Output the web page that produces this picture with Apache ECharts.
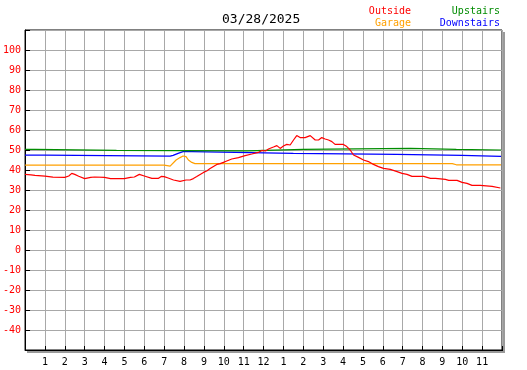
<!DOCTYPE html>
<html>
<head>
<meta charset="utf-8">
<script src="https://cdn.jsdelivr.net/npm/echarts@6/dist/echarts.min.js"></script>
<style>html,body{margin:0;padding:0;background:#fff}#c{width:527px;height:370px}</style>
</head>
<body>
<div id="c"></div>
<script>
const titleText = '03/28/2025';
const seriesNames = ['Outside', 'Garage', 'Upstairs', 'Downstairs'];
const seriesColors = ['#ff0000', '#ffa000', '#008c00', '#0000ff'];

const outsideHours = [0,0.3,0.5,1.0,1.4,2.0,2.2,2.35,2.5,2.7,3.0,3.3,3.5,4.0,4.3,5.0,5.3,5.5,5.75,6.0,6.38,6.7,6.85,7.0,7.2,7.47,7.8,8.1,8.3,8.47,8.64,8.81,8.98,9.14,9.31,9.48,9.65,9.82,9.98,10.15,10.4,10.74,11.07,11.41,11.74,11.91,12.0,12.1,12.25,12.5,12.67,12.84,13.0,13.17,13.34,13.51,13.67,13.84,14.09,14.35,14.6,14.77,14.93,15.1,15.27,15.44,15.6,16.02,16.19,16.36,16.53,16.78,17.03,17.28,17.53,17.78,18.04,18.38,18.72,18.97,19.22,19.47,20.06,20.14,20.4,20.65,20.73,21.15,21.32,21.74,21.99,22.24,22.49,22.91,22.99,23.5,23.58,23.92];
const outsideTemps = [37.8,37.6,37.3,36.9,36.4,36.3,37.0,38.3,37.8,36.9,35.7,36.3,36.5,36.3,35.7,35.7,36.3,36.5,37.8,37.0,35.8,35.8,36.8,36.7,36.0,35.0,34.3,35.0,35.0,35.7,36.7,37.8,38.8,39.5,40.7,41.8,42.8,43.2,43.8,44.5,45.5,46.2,47.2,48.0,48.8,49.8,50.2,49.5,50.5,51.5,52.2,50.8,52.0,52.8,52.5,55.0,57.2,56.2,56.2,57.2,55.0,55.0,56.2,55.5,55.0,54.2,52.8,52.8,51.7,50.0,47.5,46.3,45.0,44.2,42.8,41.7,40.8,40.3,39.2,38.3,37.8,36.8,36.8,36.3,35.8,35.8,35.3,35.3,34.8,34.8,33.8,33.3,32.3,32.3,31.8,31.8,31.3,31.0];

const garageHours = [0,7.0,7.01,7.3,7.38,7.6,7.8,7.95,8.1,8.22,8.39,8.55,20.8,20.9,21.0,21.1,21.25,21.35,21.5,21.6,21.7,23.95];
const garageTemps = [42.4,42.4,41.9,41.9,42.8,45.0,46.2,47.0,46.7,45.0,43.8,43.2,43.2,42.7,43.2,42.7,43.2,42.7,43.2,42.7,42.6,42.6];

const upstairsHours = [0,0.5,0.55,4.6,4.65,11.2,11.3,14.0,14.1,19.4,19.5,21.7,21.8,23.95];
const upstairsTemps = [50.3,50.3,49.8,49.8,49.6,49.6,50.3,50.3,50.8,50.8,50.3,50.3,50.0,50.0];

const downstairsHours = [0,1.0,1.05,7.3,7.35,7.45,7.7,7.95,8.4,8.5,13.5,13.55,18.7,18.75,22.0,22.05,23.95];
const downstairsTemps = [47.4,47.4,46.9,46.9,46.4,47.3,48.3,49.2,49.2,48.3,48.3,47.8,47.8,47.3,47.3,46.8,46.8];

const yMin = -50, yMax = 110, yStep = 10;
const xMin = 0, xMax = 24, xStep = 1;

function pairs(h, v) { return h.map((x, i) => [x, v[i]]); }
const seriesData = [
  pairs(outsideHours, outsideTemps),
  pairs(garageHours, garageTemps),
  pairs(upstairsHours, upstairsTemps),
  pairs(downstairsHours, downstairsTemps)
];

const mono = 'DejaVu Sans Mono';
const chart = echarts.init(document.getElementById('c'), null, {renderer: 'canvas'});

const legendPos = [[411, 11], [411, 23], [500, 11], [500, 23]];
const G = {left: 25, top: 30, width: 477, height: 320};

const legendTexts = seriesNames.map((n, i) => ({
  type: 'text',
  x: legendPos[i][0], y: legendPos[i][1],
  style: {text: n, fill: seriesColors[i], font: '10px "' + mono + '"', textAlign: 'right', textVerticalAlign: 'middle'}
}));
const frameShadow = [
  {type: 'rect', shape: {x: G.left + G.width, y: G.top + 1, width: 1, height: G.height + 1}, style: {fill: '#000'}},
  {type: 'rect', shape: {x: G.left + 1, y: G.top + G.height, width: G.width + 1, height: 1}, style: {fill: '#000'}},
  {type: 'rect', shape: {x: G.left + G.width + 1, y: G.top + 2, width: 2, height: G.height + 1}, style: {fill: '#9a9a9a'}},
  {type: 'rect', shape: {x: G.left + 2, y: G.top + G.height + 1, width: G.width + 1, height: 2}, style: {fill: '#9a9a9a'}}
];

chart.setOption({
  animation: false,
  backgroundColor: '#fff',
  title: {
    text: titleText,
    left: 222, top: 13, padding: 0,
    textStyle: {fontFamily: mono, fontSize: 13, fontWeight: 'normal', color: '#000'}
  },
  graphic: legendTexts.concat(frameShadow),
  grid: {
    left: G.left, top: G.top, width: G.width, height: G.height,
    show: true, backgroundColor: '#fff', borderColor: '#000', borderWidth: 1
  },
  xAxis: {
    type: 'value', min: xMin, max: xMax, interval: xStep,
    axisLine: {show: true, onZero: false, lineStyle: {color: '#000', width: 1}},
    axisTick: {show: true, inside: true, length: 4, lineStyle: {color: '#000'}},
    splitLine: {show: true, lineStyle: {color: '#a8a8a8', width: 1}},
    axisLabel: {
      color: '#000', fontFamily: mono, fontSize: 10, margin: 7,
      formatter: v => (v <= 0 || v >= 24) ? '' : String(v > 12 ? v - 12 : v)
    }
  },
  yAxis: {
    type: 'value', min: yMin, max: yMax, interval: yStep,
    axisLine: {show: true, onZero: false, lineStyle: {color: '#000', width: 1}},
    axisTick: {show: true, inside: true, length: 5, lineStyle: {color: '#000'}},
    splitLine: {show: true, lineStyle: {color: '#a8a8a8', width: 1}},
    axisLabel: {
      color: '#ff0000', fontFamily: mono, fontSize: 10, margin: 4,
      formatter: v => (v <= yMin || v >= yMax) ? '' : String(v)
    }
  },
  series: seriesNames.map((n, i) => ({
    name: n, type: 'line', data: seriesData[i],
    showSymbol: false, symbol: 'none',
    lineStyle: {color: seriesColors[i], width: 1.2},
    z: 10 - i
  }))
});
</script>
</body>
</html>
